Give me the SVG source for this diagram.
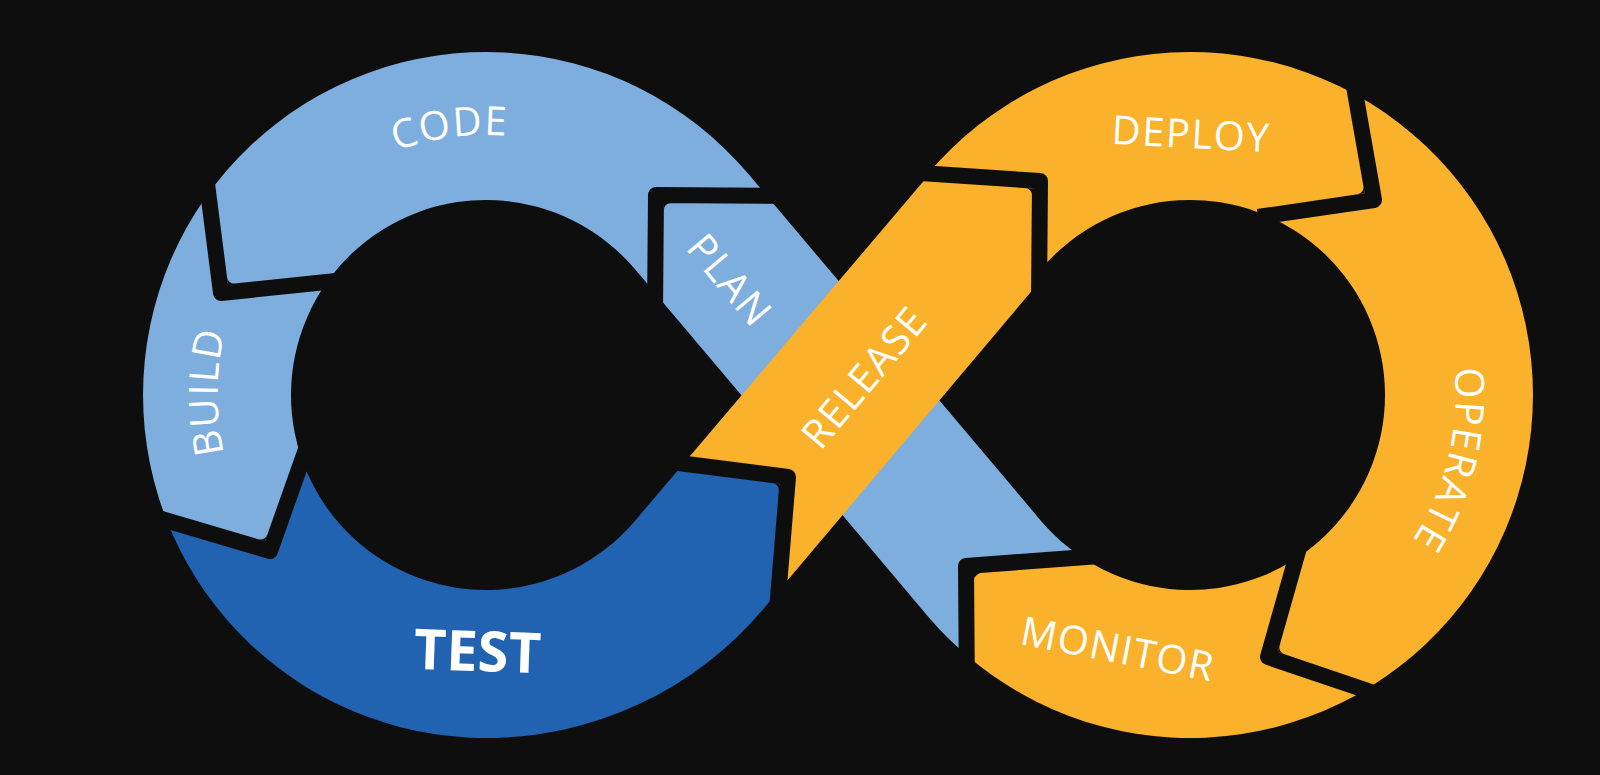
<svg xmlns="http://www.w3.org/2000/svg" width="1600" height="775" viewBox="0 0 1600 775">
<defs>
<style>
.lb{fill:#7eaede}
.dk{fill:#2163b0}
.or{fill:#fab12c}
.sep{fill:none;stroke:#0e0e0e;stroke-width:16;stroke-linejoin:round;stroke-linecap:butt}
.fil{fill:#0e0e0e;stroke:none}
.lbl{font-family:"Open Sans","Liberation Sans",sans-serif;font-size:40px;font-weight:500;fill:#ffffff;letter-spacing:1.5px}
.big{font-size:56px;font-weight:700;letter-spacing:0px}
</style>
<path id="LA" d="M748.0,173.6 A343,343 0 1 0 748.0,616.4 L634.9,520.9 A195,195 0 1 1 634.9,269.1 Z"/>
<path id="LADB" d="M748.0,173.6 A343,343 0 1 0 748.0,616.4 L634.9,520.9 A195,195 0 1 1 634.9,269.1 Z M748.0,173.6 L634.9,269.1 L928.0,616.4 L1041.1,520.9 Z"/>
<path id="LADBRA" d="M748.0,173.6 A343,343 0 1 0 748.0,616.4 L634.9,520.9 A195,195 0 1 1 634.9,269.1 Z M748.0,173.6 L634.9,269.1 L928.0,616.4 L1041.1,520.9 Z M928.0,616.4 A343,343 0 1 0 928.0,173.6 L1041.1,269.1 A195,195 0 1 1 1041.1,520.9 Z"/>
<path id="LADO" d="M748.0,173.6 A343,343 0 1 0 748.0,616.4 L634.9,520.9 A195,195 0 1 1 634.9,269.1 Z M634.9,520.9 L560,640 L486,700 L486,738 A362.5,362.5 0 0 0 762.9,609.5 L1038,283.5 L1038,182 L930,173.6 Z"/>
<path id="RA" d="M928.0,616.4 A343,343 0 1 0 928.0,173.6 L1041.1,269.1 A195,195 0 1 1 1041.1,520.9 Z"/>
<path id="DO" d="M634.9,520.9 L560,640 L486,700 L486,738 A362.5,362.5 0 0 0 762.9,609.5 L1038,283.5 L1038,182 L930,173.6 Z"/>
<clipPath id="cCode"><polygon points="200,0 850,0 790,196 656,195 655,312 480,395 336,281 221,293 204,160 190,0"/></clipPath>
<clipPath id="cBuild"><polygon points="0,0 190,0 204,160 221,293 336,281 480,395 310,438 270,551 138,512 0,520"/></clipPath>
<clipPath id="cTest"><polygon points="0,520 138,512 270,551 310,438 480,395 655,460 788,477 776,622 800,775 0,775"/></clipPath>
<clipPath id="cPlan"><polygon points="790,196 656,195 655,312 700,395 880,700 967,700 966,566 1100,556 1100,470 850,196"/></clipPath>
<clipPath id="cRelease"><polygon points="600,0 1200,0 1200,775 800,775 776,622 788,477 655,460 600,460"/></clipPath>
<clipPath id="cDeploy"><polygon points="905,172 900,0 1355,0 1352,75 1374,200 1258,217 1190,395 1039,300 1040,181"/></clipPath>
<clipPath id="cOperate"><polygon points="1355,0 1600,0 1600,775 1400,775 1380,695 1268,657 1304,530 1190,395 1258,217 1374,200 1352,75"/></clipPath>
<clipPath id="cMonitor"><polygon points="1190,395 1304,530 1268,657 1380,695 1400,775 967,775 967,700 966,566 1100,556"/></clipPath>
<path id="tCode" d="M245.4,296.3 A260,260 0 0 1 691.7,236.0"/>
<path id="tBuild" d="M349.3,626.1 A268.5,268.5 0 0 1 354.2,161.1"/>
<path id="tOperate" d="M1373.8,203.4 A265.5,265.5 0 0 1 1264.1,650.0"/>
</defs>
<rect width="1600" height="775" fill="#0e0e0e"/>
<g id="node-code">
<use href="#LADB" class="lb" clip-path="url(#cCode)"/>
<text class="lbl"><textPath href="#tCode" startOffset="50%" text-anchor="middle">CODE</textPath></text>
</g>
<g id="node-build">
<use href="#LA" class="lb" clip-path="url(#cBuild)"/>
<text class="lbl"><textPath href="#tBuild" startOffset="50%" text-anchor="middle">BUILD</textPath></text>
</g>
<g id="node-plan">
<use href="#LADBRA" class="lb" clip-path="url(#cPlan)"/>
<text class="lbl" text-anchor="middle" transform="translate(730,280) rotate(50)" x="0" y="14.5">PLAN</text>
</g>
<g id="node-test">
<use href="#LADO" class="dk" clip-path="url(#cTest)"/>
<text class="lbl big" text-anchor="middle" transform="translate(477.5,651) rotate(2)" x="0" y="20">TEST</text>
</g>
<g id="node-deploy">
<use href="#RA" class="or" clip-path="url(#cDeploy)"/>
<text class="lbl" text-anchor="middle" transform="translate(1191,133.5) rotate(3)" x="0" y="14.5">DEPLOY</text>
</g>
<g id="node-operate">
<use href="#RA" class="or" clip-path="url(#cOperate)"/>
<text class="lbl"><textPath href="#tOperate" startOffset="50%" text-anchor="middle">OPERATE</textPath></text>
</g>
<g id="node-monitor">
<use href="#RA" class="or" clip-path="url(#cMonitor)"/>
<text class="lbl" text-anchor="middle" transform="translate(1118,648.5) rotate(11)" x="0" y="14.5">MONITOR</text>
</g>
<g id="node-release">
<use href="#DO" class="or" clip-path="url(#cRelease)"/>
</g>
<g id="connectors">
<path class="sep" d="M790,196 L656,195 L655,312"/>
<path class="sep" d="M204,160 L221,293 L336,281"/>
<path class="sep" d="M138,512 L270,551 L310,438"/>
<path class="sep" d="M655,460 L788,477 L776,622"/>
<path class="sep" d="M905,172 L1040,181 L1039,300"/>
<path class="sep" d="M1352,75 L1374,200 L1258,217"/>
<path class="sep" d="M1304,530 L1268,657 L1380,695"/>
<path class="sep" d="M1100,556 L966,566 L967,700"/>
<path class="fil" d="M670.9,203.1 L663.9,203.1 L663.8,210.1 A7,7 0 0 1 670.9,203.1 Z"/>
<path class="fil" d="M227.0,277.3 L227.9,284.2 L234.9,283.5 A7,7 0 0 1 227.0,277.3 Z"/>
<path class="fil" d="M258.3,539.2 L265.0,541.2 L267.3,534.6 A7,7 0 0 1 258.3,539.2 Z"/>
<path class="fil" d="M772.5,483.1 L779.4,484.0 L778.8,491.0 A7,7 0 0 0 772.5,483.1 Z"/>
<path class="fil" d="M1025.0,188.0 L1032.0,188.5 L1031.9,195.5 A7,7 0 0 0 1025.0,188.0 Z"/>
<path class="fil" d="M1363.5,186.4 L1364.7,193.3 L1357.8,194.3 A7,7 0 0 0 1363.5,186.4 Z"/>
<path class="fil" d="M1279.7,645.2 L1277.8,651.9 L1284.4,654.1 A7,7 0 0 1 1279.7,645.2 Z"/>
<path class="fil" d="M981.0,572.9 L974.0,573.4 L974.1,580.4 A7,7 0 0 1 981.0,572.9 Z"/>
</g>
<g id="label-release">
<text class="lbl" text-anchor="middle" transform="translate(864,377) rotate(-50)" x="0" y="14.5">RELEASE</text>
</g>
</svg>
